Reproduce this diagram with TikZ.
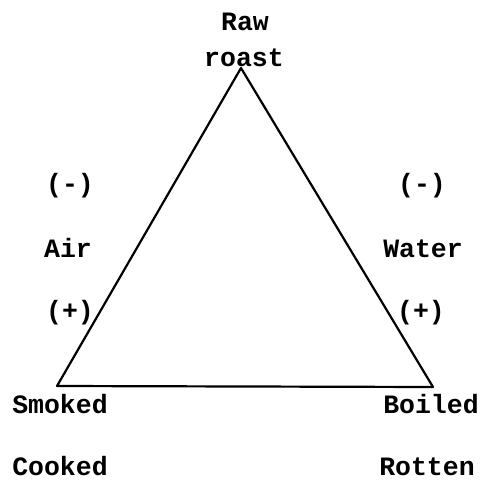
\documentclass[tikz,border=0pt]{standalone}
\usepackage{fontspec}
\setmonofont{Liberation Mono}
\begin{document}
\begin{tikzpicture}[x=1pt,y=1pt,
  lbl/.style={font=\ttfamily\bfseries\fontsize{26.5}{29}\selectfont, anchor=base, inner sep=0pt},
  edge/.style={line width=2.2pt, line join=round, line cap=round}]
\useasboundingbox (0,0) rectangle (481,480);
\coordinate (top) at (241,412);
\coordinate (bl) at (57,94);
\coordinate (br) at (433,93);
\draw[edge] (top) -- (bl) -- (br) -- cycle;
\node[lbl] (raw) at (245,449) {Raw};
\node[lbl] (roast) at (244,413) {roast};
\node[lbl] (lminus) at (70,288) {(-)};
\node[lbl] (air) at (68,223) {Air};
\node[lbl] (lplus) at (70,161) {(+)};
\node[lbl] (rminus) at (422,288) {(-)};
\node[lbl] (water) at (423,223) {Water};
\node[lbl] (rplus) at (421,161) {(+)};
\node[lbl] (smoked) at (60,67) {Smoked};
\node[lbl] (cooked) at (60,5) {Cooked};
\node[lbl] (boiled) at (431,67) {Boiled};
\node[lbl] (rotten) at (427,5) {Rotten};
\end{tikzpicture}
\end{document}
